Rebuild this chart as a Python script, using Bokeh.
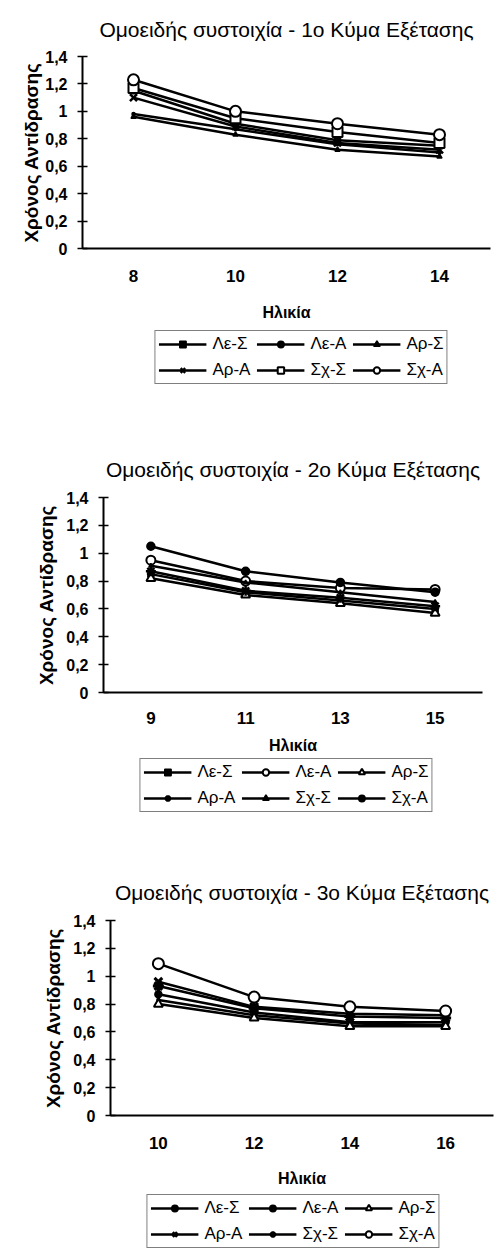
from bokeh.plotting import figure
from bokeh.models import (FactorRange, Range1d, FixedTicker, CustomJSTickFormatter,
                          Legend, LegendItem)
from bokeh.layouts import column
from bokeh.embed import file_html
from bokeh.resources import INLINE

FONT = "Liberation Sans"

# ---------------- data ----------------
series_names = ["Λε-Σ", "Λε-Α", "Αρ-Σ", "Αρ-Α", "Σχ-Σ", "Σχ-Α"]
y_ticks = [0, 0.2, 0.4, 0.6, 0.8, 1.0, 1.2, 1.4]
y_tick_labels = ["0", "0,2", "0,4", "0,6", "0,8", "1", "1,2", "1,4"]
x_axis_label = "Ηλικία"
y_axis_label = "Χρόνος Αντίδρασης"

title_w1 = "Ομοειδής συστοιχία - 1ο Κύμα Εξέτασης"
title_w2 = "Ομοειδής συστοιχία - 2ο Κύμα Εξέτασης"
title_w3 = "Ομοειδής συστοιχία - 3ο Κύμα Εξέτασης"

ages_w1 = ["8", "10", "12", "14"]
w1_le_s = [1.15, 0.91, 0.79, 0.75]
w1_le_a = [0.98, 0.87, 0.76, 0.70]
w1_ar_s = [0.96, 0.83, 0.72, 0.67]
w1_ar_a = [1.10, 0.89, 0.77, 0.72]
w1_sx_s = [1.17, 0.95, 0.85, 0.77]
w1_sx_a = [1.23, 1.00, 0.91, 0.83]

ages_w2 = ["9", "11", "13", "15"]
w2_le_s = [0.85, 0.72, 0.66, 0.60]
w2_le_a = [0.95, 0.80, 0.75, 0.74]
w2_ar_s = [0.82, 0.70, 0.64, 0.57]
w2_ar_a = [0.87, 0.73, 0.68, 0.62]
w2_sx_s = [0.91, 0.79, 0.72, 0.65]
w2_sx_a = [1.05, 0.87, 0.79, 0.72]

ages_w3 = ["10", "12", "14", "16"]
w3_le_s = [0.87, 0.74, 0.67, 0.67]
w3_le_a = [0.83, 0.72, 0.66, 0.65]
w3_ar_s = [0.80, 0.70, 0.64, 0.64]
w3_ar_a = [0.96, 0.78, 0.73, 0.72]
w3_sx_s = [0.93, 0.77, 0.71, 0.70]
w3_sx_a = [1.09, 0.85, 0.78, 0.75]

# ---------------- styles ----------------
def mk(marker, size, fill="black", lw=1.5):
    return dict(marker=marker, size=size, fill=fill, lw=lw)

styles_w1 = [mk("square", 6), mk("circle", 3), mk("triangle", 5),
             mk("x", 10, lw=2.5), mk("square", 10, fill="white", lw=2),
             mk("circle", 11, fill="white", lw=2)]
styles_w2 = [mk("square", 6), mk("circle", 9, fill="white", lw=2),
             mk("triangle", 9, fill="white", lw=2), mk("asterisk", 10, lw=2.5),
             mk("triangle", 4), mk("circle", 8)]
styles_w3 = [mk("circle", 7), mk("circle", 3), mk("triangle", 9, fill="white", lw=2),
             mk("x", 11, lw=3), mk("asterisk", 11, lw=3),
             mk("circle", 11, fill="white", lw=2)]


def draw_series(p, ages, series, styles):
    items = []
    for name, vals, st in zip(series_names, series, styles):
        lr = p.line(ages, vals, line_color="black", line_width=2.5)
        sr = p.scatter(ages, vals, marker=st["marker"], size=st["size"],
                       fill_color=st["fill"], line_color="black",
                       line_width=st["lw"])
        items.append(LegendItem(label=name, renderers=[lr, sr]))
    return items


def panel(title, ages, series, styles, left, fwidth, top, bottom, title_offset,
          title_standoff, ylab_standoff, xtick_standoff, xlab_standoff):
    p = figure(x_range=FactorRange(factors=ages), y_range=Range1d(0, 1.4),
               width=left + fwidth + 5, height=top + 195 + bottom,
               min_border_left=left, min_border_right=5,
               min_border_top=top, min_border_bottom=bottom,
               output_backend="svg", toolbar_location=None)
    p.outline_line_color = None
    p.xgrid.grid_line_color = None
    p.ygrid.grid_line_color = None

    p.title.text = title
    p.title.align = "center"
    p.title.offset = title_offset
    p.title.text_font = FONT
    p.title.text_font_size = "21px"
    p.title.text_font_style = "normal"
    p.title.text_color = "black"
    p.title.standoff = title_standoff

    draw_series(p, ages, series, styles)

    ax = p.xaxis[0]
    ax.axis_label = x_axis_label
    ax.axis_label_text_font = FONT
    ax.axis_label_text_font_size = "16px"
    ax.axis_label_text_font_style = "bold"
    ax.axis_label_text_color = "black"
    ax.axis_label_standoff = xlab_standoff
    ax.axis_line_width = 2
    ax.major_tick_line_color = None
    ax.major_tick_out = 0
    ax.major_tick_in = 0
    ax.major_label_standoff = xtick_standoff
    ax.major_label_text_font = FONT
    ax.major_label_text_font_size = "17px"
    ax.major_label_text_font_style = "bold"
    ax.major_label_text_color = "black"

    ay = p.yaxis[0]
    ay.ticker = FixedTicker(ticks=y_ticks)
    ay.formatter = CustomJSTickFormatter(
        args=dict(tvals=y_ticks, tlabs=y_tick_labels),
        code="""
        let best = 0;
        for (let i = 0; i < tvals.length; i++) {
            if (Math.abs(tvals[i] - tick) < Math.abs(tvals[best] - tick)) best = i;
        }
        return tlabs[best];
        """)
    ay.minor_tick_line_color = None
    ay.major_tick_in = 5
    ay.major_tick_out = 5
    ay.major_tick_line_width = 1.5
    ay.axis_line_width = 2
    ay.major_label_standoff = 10
    ay.major_label_text_font = FONT
    ay.major_label_text_font_size = "16px"
    ay.major_label_text_font_style = "bold"
    ay.major_label_text_color = "black"
    ay.axis_label = y_axis_label
    ay.axis_label_text_font = FONT
    ay.axis_label_text_font_size = "19px"
    ay.axis_label_text_font_style = "bold"
    ay.axis_label_text_color = "black"
    ay.axis_label_standoff = ylab_standoff
    return p


def legend_fig(ages, series, styles, height, center_x):
    # a strip holding only the legend; the series are drawn outside its view
    frame_w = 2 * (495 - center_x)
    p = figure(x_range=FactorRange(factors=ages), y_range=Range1d(10, 11),
               width=495, height=height,
               min_border_left=495 - frame_w, min_border_right=0,
               min_border_top=0, min_border_bottom=0,
               output_backend="svg", toolbar_location=None)
    p.outline_line_color = None
    p.xgrid.grid_line_color = None
    p.ygrid.grid_line_color = None
    p.xaxis.visible = False
    p.yaxis.visible = False
    items = draw_series(p, ages, series, styles)
    legend = Legend(items=items, orientation="horizontal", ncols=3,
                    location="center", label_text_font=FONT,
                    label_text_font_size="17px", label_text_color="black",
                    glyph_width=48, glyph_height=16, label_height=16,
                    label_standoff=6, spacing=6, padding=3, margin=0,
                    border_line_color="black", border_line_width=1.5,
                    background_fill_color="white", background_fill_alpha=1)
    p.add_layout(legend)
    return p


s1 = [w1_le_s, w1_le_a, w1_ar_s, w1_ar_a, w1_sx_s, w1_sx_a]
s2 = [w2_le_s, w2_le_a, w2_ar_s, w2_ar_a, w2_sx_s, w2_sx_a]
s3 = [w3_le_s, w3_le_a, w3_ar_s, w3_ar_a, w3_sx_s, w3_sx_a]

p1 = panel(title_w1, ages_w1, s1, styles_w1,
           left=82, fwidth=408, top=53, bottom=82, title_offset=15,
           title_standoff=31, ylab_standoff=0, xtick_standoff=21, xlab_standoff=19)
l1 = legend_fig(ages_w1, s1, styles_w1, height=54, center_x=301)
p2 = panel(title_w2, ages_w2, s2, styles_w2,
           left=103, fwidth=379, top=113, bottom=66, title_offset=5,
           title_standoff=34, ylab_standoff=6, xtick_standoff=19, xlab_standoff=10)
l2 = legend_fig(ages_w2, s2, styles_w2, height=54, center_x=286)
p3 = panel(title_w3, ages_w3, s3, styles_w3,
           left=110, fwidth=383, top=108, bottom=79, title_offset=-6,
           title_standoff=34, ylab_standoff=6, xtick_standoff=21, xlab_standoff=18)
l3 = legend_fig(ages_w3, s3, styles_w3, height=54, center_x=293)

# wrap each figure on its own so the column does not align their frames
layout = column(column(p1), column(l1), column(p2), column(l2),
                column(p3), column(l3), spacing=0)
open("out.html", "w").write(file_html(layout, INLINE))
